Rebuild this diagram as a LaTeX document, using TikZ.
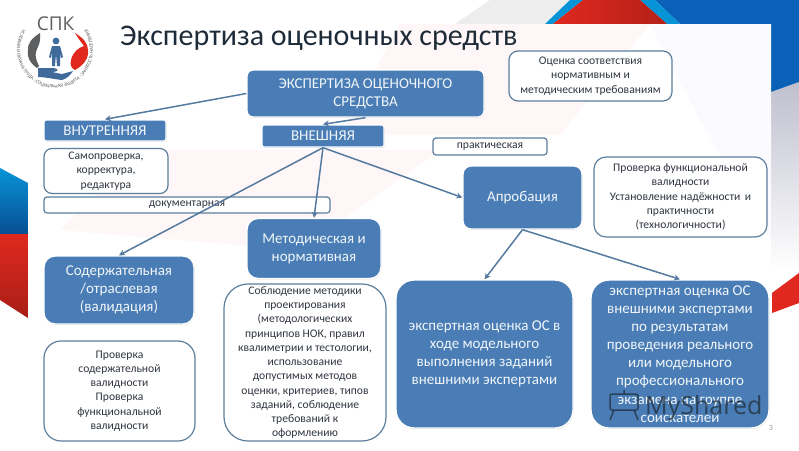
\documentclass[tikz,border=0pt]{standalone}
\usepackage{fontspec}
\setmainfont{Carlito}
\newfontfamily\markfont{Open Sans}
\usepackage{xcolor}
\usetikzlibrary{arrows.meta,shadows,decorations.text}
\definecolor{boxblue}{HTML}{4A7DB5}
\definecolor{edgeblue}{HTML}{5C7F9E}
\definecolor{linkblue}{HTML}{557A9F}
\definecolor{inkdark}{HTML}{1E2B38}
\definecolor{inksoft}{HTML}{2F3640}
\definecolor{flagblue}{HTML}{0A62B8}
\definecolor{flagcyan}{HTML}{0794D6}
\definecolor{flagred}{HTML}{E0281E}
\definecolor{handgray}{HTML}{5D5F60}
\tikzset{
  bluebox/.style={rectangle, rounded corners=#1, fill=boxblue, draw=white, line width=1.4pt, align=center, text=white!92!boxblue,
    font=\fontsize{15}{18.1}\selectfont, drop shadow={shadow xshift=0.5pt, shadow yshift=-0.9pt, fill=black!35, opacity=0.45}},
  whitebox/.style={rectangle, rounded corners=#1, fill=white, draw=edgeblue, line width=1.2pt, align=center, text=inksoft,
    font=\fontsize{11.6}{14.25}\selectfont},
  link/.style={draw=linkblue, line width=1.5pt, -{Stealth[length=6pt,width=6pt]}},
}
\begin{document}
\begin{tikzpicture}[x=1pt,y=-1pt]
  \useasboundingbox (0,0) rectangle (799,450);
  % background
  \fill[white] (0,0) rectangle (799,450);
  \fill[black!7] (455,24) -- (490,0) -- (570,0) -- (545,24) -- cycle;
  \fill[flagblue] (655,0) -- (799,0) -- (799,85) -- (771,97) -- (771,24) -- (680,24) -- cycle;
  \fill[flagcyan] (640,0) -- (655,0) -- (680,24) -- (667,24) -- cycle;
  \fill[flagcyan] (570,0) -- (583,0) -- (553,24) -- (545,24) -- cycle;
  \shade[left color=flagred, right color=flagred!80!black] (583,0) -- (640,0) -- (667,24) -- (553,24) -- cycle;
  \shade[top color=blue!25!black!25, bottom color=white] (771,92) -- (799,82) -- (799,270) -- (771,270) -- cycle;
  \fill[flagred] (772,293) -- (799,273) -- (799,303) -- (772,313) -- cycle;
  \shade[top color=flagcyan, bottom color=flagblue!80!black] (0,168) -- (28,183) -- (28,234) -- (0,234) -- cycle;
  \shade[top color=flagred, bottom color=flagred!75!black] (0,234) -- (28,234) -- (28,318) -- (0,300) -- cycle;
  \fill[red!3] (400,24) -- (650,24) -- (560,135) -- (340,135) -- cycle;
  \fill[blue!2] (650,24) -- (771,24) -- (771,240) -- (700,120) -- cycle;
  \fill[red!3] (60,230) -- (140,150) -- (440,150) -- (300,250) -- cycle;
  % logo
  \path[decorate, decoration={text along path, text align=center, text={|\fontsize{4.9}{5}\selectfont\color{handgray}|УСЛОВИЯ И ОХРАНА ТРУДА · СОЦИАЛЬНАЯ ЗАЩИТА · ЗАНЯТОСТЬ НАСЕЛЕНИЯ}}]
    ([shift={(120:38pt)}]55,50) arc[start angle=120, end angle=420, radius=38pt];
  \node[font=\markfont\fontsize{19}{19}\selectfont, text=handgray, inner sep=0pt] (spk) at (55.5,24) {СПК};
  \fill[handgray] (40,33) .. controls (32,38) and (27,44) .. (28,50) .. controls (27,58) and (30,63) .. (37,68) -- (39,66)
    .. controls (36,60) and (35,56) .. (36,52) .. controls (37,47) and (41,45) .. (40,33) -- cycle;
  \fill[flagred] (75,33) .. controls (83,38) and (88,43) .. (88,50) .. controls (89,58) and (84,65) .. (75,70)
    .. controls (71,68) and (70,65) .. (71,60) .. controls (73,52) and (78,48) .. (84,46) .. controls (81,42) and (78,38) .. (75,33) -- cycle;
  \fill[boxblue!85!black] (38,68) -- (54,68) .. controls (60,69) and (58,72) .. (52,72) -- (62,74) -- (73,71)
    .. controls (70,76) and (66,79) .. (62,80) .. controls (53,79) and (45,77) .. (38,77) -- cycle;
  \fill[boxblue!85!black] (56,41) circle (3.4);
  \fill[boxblue!85!black] (52,46) -- (60,46) -- (63,57) -- (61,58) -- (60,52) -- (60,66) -- (57,66) -- (56.3,57) -- (55.7,57) -- (55,66) -- (52,66) -- (52,52) -- (51,58) -- (49,57) -- cycle;
  % title
  \node[anchor=base west, inner sep=0pt, text=inkdark, font=\fontsize{30}{31}\selectfont] (title) at (120,45) {Экспертиза оценочных средств};
  % boxes
  \node[bluebox=6pt, minimum width=237pt, minimum height=47pt] (ekspertiza) at (365.5,93.5) {ЭКСПЕРТИЗА ОЦЕНОЧНОГО\\СРЕДСТВА};
  \node[bluebox=2pt, minimum width=122pt, minimum height=21pt, inner ysep=0pt] (vnutr) at (105,130.5) {ВНУТРЕННЯЯ};
  \node[bluebox=2pt, minimum width=122pt, minimum height=22pt, inner ysep=0pt] (vnesh) at (323,136) {ВНЕШНЯЯ};
  \node[whitebox=8pt, minimum width=124pt, minimum height=45pt, inner ysep=0pt] (samo) at (106,171) {Самопроверка,\\корректура,\\редактура};
  \node[whitebox=3pt, minimum width=286pt, minimum height=16pt, inner ysep=0pt] (dok) at (187,205) {документарная};
  \node[whitebox=3pt, minimum width=114pt, minimum height=17pt, inner ysep=0pt] (prakt) at (490,146.5) {практическая};
  \node[whitebox=9pt, minimum width=163pt, minimum height=50pt, inner ysep=0pt] (ocenka) at (590.5,76) {Оценка соответствия\\нормативным и\\методическим требованиям};
  \node[bluebox=8pt, minimum width=119pt, minimum height=63pt] (aprob) at (522.5,197.5) {Апробация};
  \node[whitebox=12pt, minimum width=173pt, minimum height=80pt, inner ysep=0pt] (valid) at (680.5,197) {Проверка функциональной\\валидности\\Установление надёжности\, и\\практичности\\(технологичности)};
  \node[bluebox=11pt, minimum width=150pt, minimum height=68pt] (sod) at (119,290) {Содержательная\\/отраслевая\\(валидация)};
  \node[bluebox=11pt, minimum width=134pt, minimum height=60pt] (metod) at (314,248.5) {Методическая и\\нормативная};
  \node[whitebox=17pt, minimum width=151pt, minimum height=100pt, inner ysep=0pt] (prov) at (119.5,391) {Проверка\\содержательной\\валидности\\Проверка\\функциональной\\валидности};
  \node[whitebox=24pt, minimum width=162pt, minimum height=157pt, inner ysep=0pt] (sobl) at (305,362.5) {Соблюдение методики\\проектирования\\(методологических\\принципов НОК, правил\\квалиметрии и тестологии,\\использование\\допустимых методов\\оценки, критериев, типов\\заданий, соблюдение\\требований к\\оформлению};
  \node[bluebox=18pt, minimum width=177pt, minimum height=148pt] (bigleft) at (484.5,354) {экспертная оценка ОС в\\ходе модельного\\выполнения заданий\\внешними экспертами};
  \node[bluebox=18pt, minimum width=178pt, minimum height=148pt, inner ysep=0pt] (bigright) at (680,354) {экспертная оценка ОС\\внешними экспертами\\по результатам\\проведения реального\\или модельного\\профессионального\\экзамена на группе\\соискателей};
  % connectors
  \draw[link] (ekspertiza.west) -- (vnutr.north);
  \draw[link] (ekspertiza.south) -- (vnesh.north);
  \draw[link] (vnesh.south) -- (sod.north);
  \draw[link] (vnesh.south) -- (metod.north);
  \draw[link] (vnesh.south) -- (aprob.west);
  \draw[link] (aprob.south) -- (bigleft.north);
  \draw[link] (aprob.south) -- (bigright.north);
  % watermark
  \node[anchor=base west, inner sep=0pt, text=inkdark, opacity=0.72, font=\markfont\fontsize{25}{26}\selectfont] (shared) at (645,414) {MyShared};
  \draw[inkdark, opacity=0.72, line width=1.5pt, rounded corners=2pt] (610,394) rectangle (638,410);
  \draw[inkdark, opacity=0.72, line width=1.5pt] (614,410) -- (610,420) (634,410) -- (638,420) (624,390) -- (624,394);
  \node[text=black!40, inner sep=0pt, font=\fontsize{8}{8}\selectfont] (pagenum) at (771,428) {3};
\end{tikzpicture}
\end{document}
